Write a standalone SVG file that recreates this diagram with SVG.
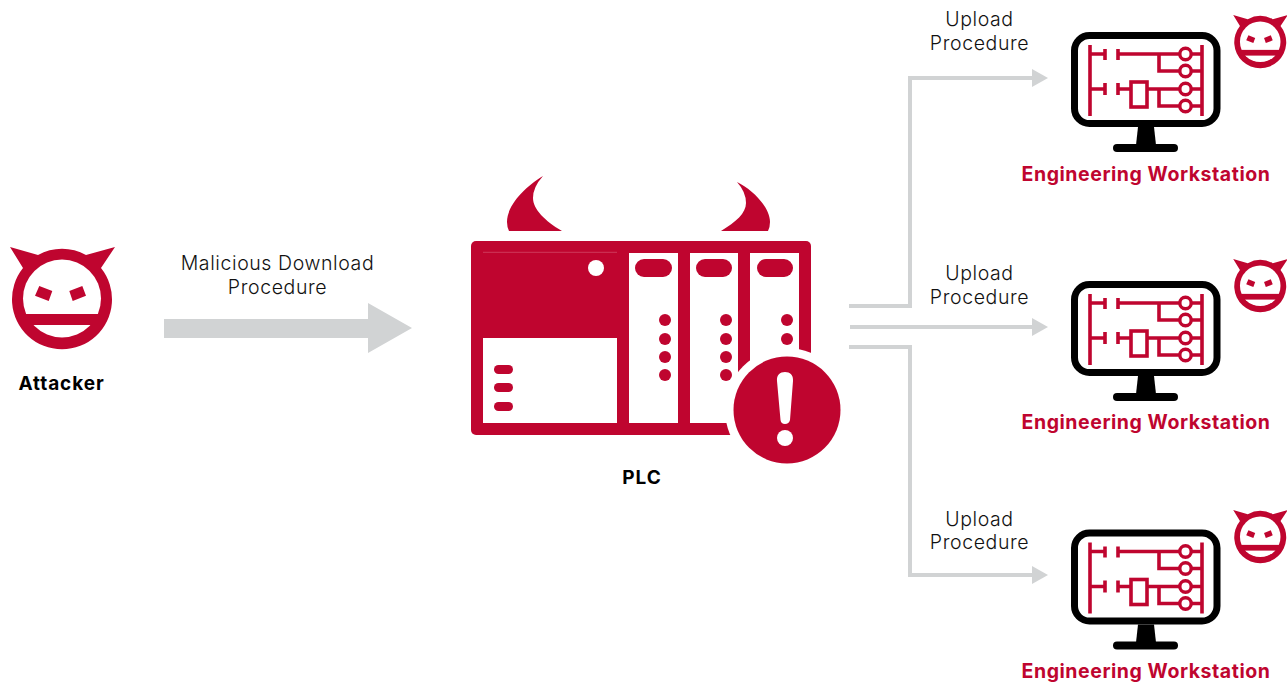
<svg xmlns="http://www.w3.org/2000/svg" xmlns:xlink="http://www.w3.org/1999/xlink" width="1287" height="685" viewBox="0 0 1287 685">
<style>
text{font-family:Inter,"Open Sans","Liberation Sans",sans-serif;text-anchor:middle}
.lbl{font-size:19.5px;font-weight:300;fill:#111;letter-spacing:.6px}
.nm{font-size:19px;font-weight:700;fill:#000;letter-spacing:.9px}
.ew{font-size:19.5px;font-weight:700;fill:#bf052f;letter-spacing:.55px}
.red{fill:#bf052f}
.wht{fill:#fff}
.conn{fill:none;stroke:#d1d3d4;stroke-width:4}
.arrowhead{fill:#d1d3d4}
.lad{fill:none;stroke:#bf052f;stroke-width:3.600}
.ring{fill:none;stroke:#bf052f;stroke-width:3.400}
</style>
<defs>
<g id="devil">
<path class="red" d="M10 247L38 255A50 50 0 0 1 86 255L115 247L101 268A50 50 0 1 1 23 268Z"/>
<circle class="wht" cx="62" cy="298.5" r="39"/>
<rect class="red" x="20" y="314" width="84" height="11"/>
<path class="red" d="M39.3 286L52.3 291L48.7 301L35 295.7ZM82.3 286L69.3 291L72.7 301L86 295.7Z"/>
</g>
<g id="ws">
<rect x="1074.500" y="35.500" width="142.500" height="88" rx="15" fill="#fff" stroke="#000" stroke-width="7"/>
<path d="M1138 127H1154L1156 145H1136Z" fill="#000"/>
<rect x="1113" y="144" width="65" height="8" rx="4" fill="#000"/>
<path class="lad" d="M1090 45V116M1202 45V116M1090 54H1105M1105 49V60M1118 49V60M1118 54H1180M1191 54H1202M1159 54V71H1180M1191 71H1202M1090 89H1105M1105 83V95M1118 83V95M1118 89H1131M1147 89H1180M1191 89H1202M1159 89V106H1180M1191 106H1202"/>
<rect class="lad" x="1131" y="82" width="16" height="25"/>
<circle class="ring" cx="1185.500" cy="54" r="5.700"/>
<circle class="ring" cx="1185.500" cy="71" r="5.700"/>
<circle class="ring" cx="1185.500" cy="89" r="5.700"/>
<circle class="ring" cx="1185.500" cy="106" r="5.700"/>
</g>
</defs>

<g id="attacker">
<use xlink:href="#devil" href="#devil"/>
<text class="nm" x="61.500" y="389.500">Attacker</text>
</g>

<g id="connectors">
<path class="arrowhead" d="M164 319H368V303L412 328L368 353V338H164Z"/>
<path class="conn" d="M849 306H910V78H1033"/>
<path class="arrowhead" d="M1032 69L1048 78L1032 87Z"/>
<path class="conn" d="M850 327H1033"/>
<path class="arrowhead" d="M1032 318L1048 327L1032 336Z"/>
<path class="conn" d="M849 347H910V575H1033"/>
<path class="arrowhead" d="M1032 566L1048 575L1032 584Z"/>
</g>

<g id="labels">
<text class="lbl" x="277.500" y="270">Malicious Download</text>
<text class="lbl" x="277.500" y="294">Procedure</text>
<text class="lbl" x="979.500" y="26">Upload</text>
<text class="lbl" x="979.500" y="50">Procedure</text>
<text class="lbl" x="979.500" y="280">Upload</text>
<text class="lbl" x="979.500" y="304">Procedure</text>
<text class="lbl" x="979.500" y="526">Upload</text>
<text class="lbl" x="979.500" y="549">Procedure</text>
</g>

<g id="plc">
<path class="red" d="M543 176C525 187 507 205 507 222Q507 227 509 231H562C545 221 533 209 533 198Q533 187 543 176Z"/>
<path class="red" d="M737 182C752 189 770 207 770 222Q770 227 768 231H721C736 222 746 213 746 203Q746 192 737 182Z"/>
<rect class="red" x="471" y="241" width="340" height="194" rx="5"/>
<path d="M483 252.300H617" stroke="#d4506e" stroke-width=".7"/>
<rect class="wht" x="483" y="338" width="134" height="85"/>
<rect class="wht" x="629" y="253" width="49" height="170"/>
<rect class="wht" x="690" y="253" width="48" height="170"/>
<rect class="wht" x="750" y="253" width="49" height="170"/>
<circle class="wht" cx="596" cy="268" r="8"/>
<rect class="red" x="635" y="259" width="37" height="18" rx="9"/>
<rect class="red" x="696" y="259" width="36" height="18" rx="9"/>
<rect class="red" x="757" y="259" width="36" height="18" rx="9"/>
<g class="red">
<circle cx="665" cy="320" r="6"/><circle cx="665" cy="339" r="6"/><circle cx="665" cy="357" r="6"/><circle cx="665" cy="375" r="6"/>
<circle cx="726" cy="320" r="6"/><circle cx="726" cy="339" r="6"/><circle cx="726" cy="357" r="6"/><circle cx="726" cy="375" r="6"/>
<circle cx="787" cy="320" r="6"/><circle cx="787" cy="339" r="6"/>
</g>
<rect class="red" x="494" y="365" width="19" height="9" rx="4.500"/>
<rect class="red" x="494" y="383" width="19" height="9" rx="4.500"/>
<rect class="red" x="494" y="402" width="19" height="9" rx="4.500"/>
<circle class="wht" cx="787" cy="410" r="62"/>
<circle class="red" cx="787" cy="410" r="53.500"/>
<path class="wht" d="M785 372C790 372 793.500 375 793 381L790 420Q789 424 785 424Q781 424 780.500 420L777 381C776.500 375 780 372 785 372Z"/>
<circle class="wht" cx="785" cy="438" r="8"/>
<text class="nm" x="642" y="483.500">PLC</text>
</g>

<g id="workstation-1">
<use xlink:href="#ws" href="#ws"/>
<use xlink:href="#devil" href="#devil" transform="translate(1228 -113.400) scale(.52)"/>
<text class="ew" x="1146" y="180.500">Engineering Workstation</text>
</g>
<g id="workstation-2">
<use xlink:href="#ws" href="#ws" y="249"/>
<use xlink:href="#devil" href="#devil" transform="translate(1228 130.600) scale(.52)"/>
<text class="ew" x="1146" y="429">Engineering Workstation</text>
</g>
<g id="workstation-3">
<use xlink:href="#ws" href="#ws" y="497.500"/>
<use xlink:href="#devil" href="#devil" transform="translate(1228 381.600) scale(.52)"/>
<text class="ew" x="1146" y="677.500">Engineering Workstation</text>
</g>
</svg>
